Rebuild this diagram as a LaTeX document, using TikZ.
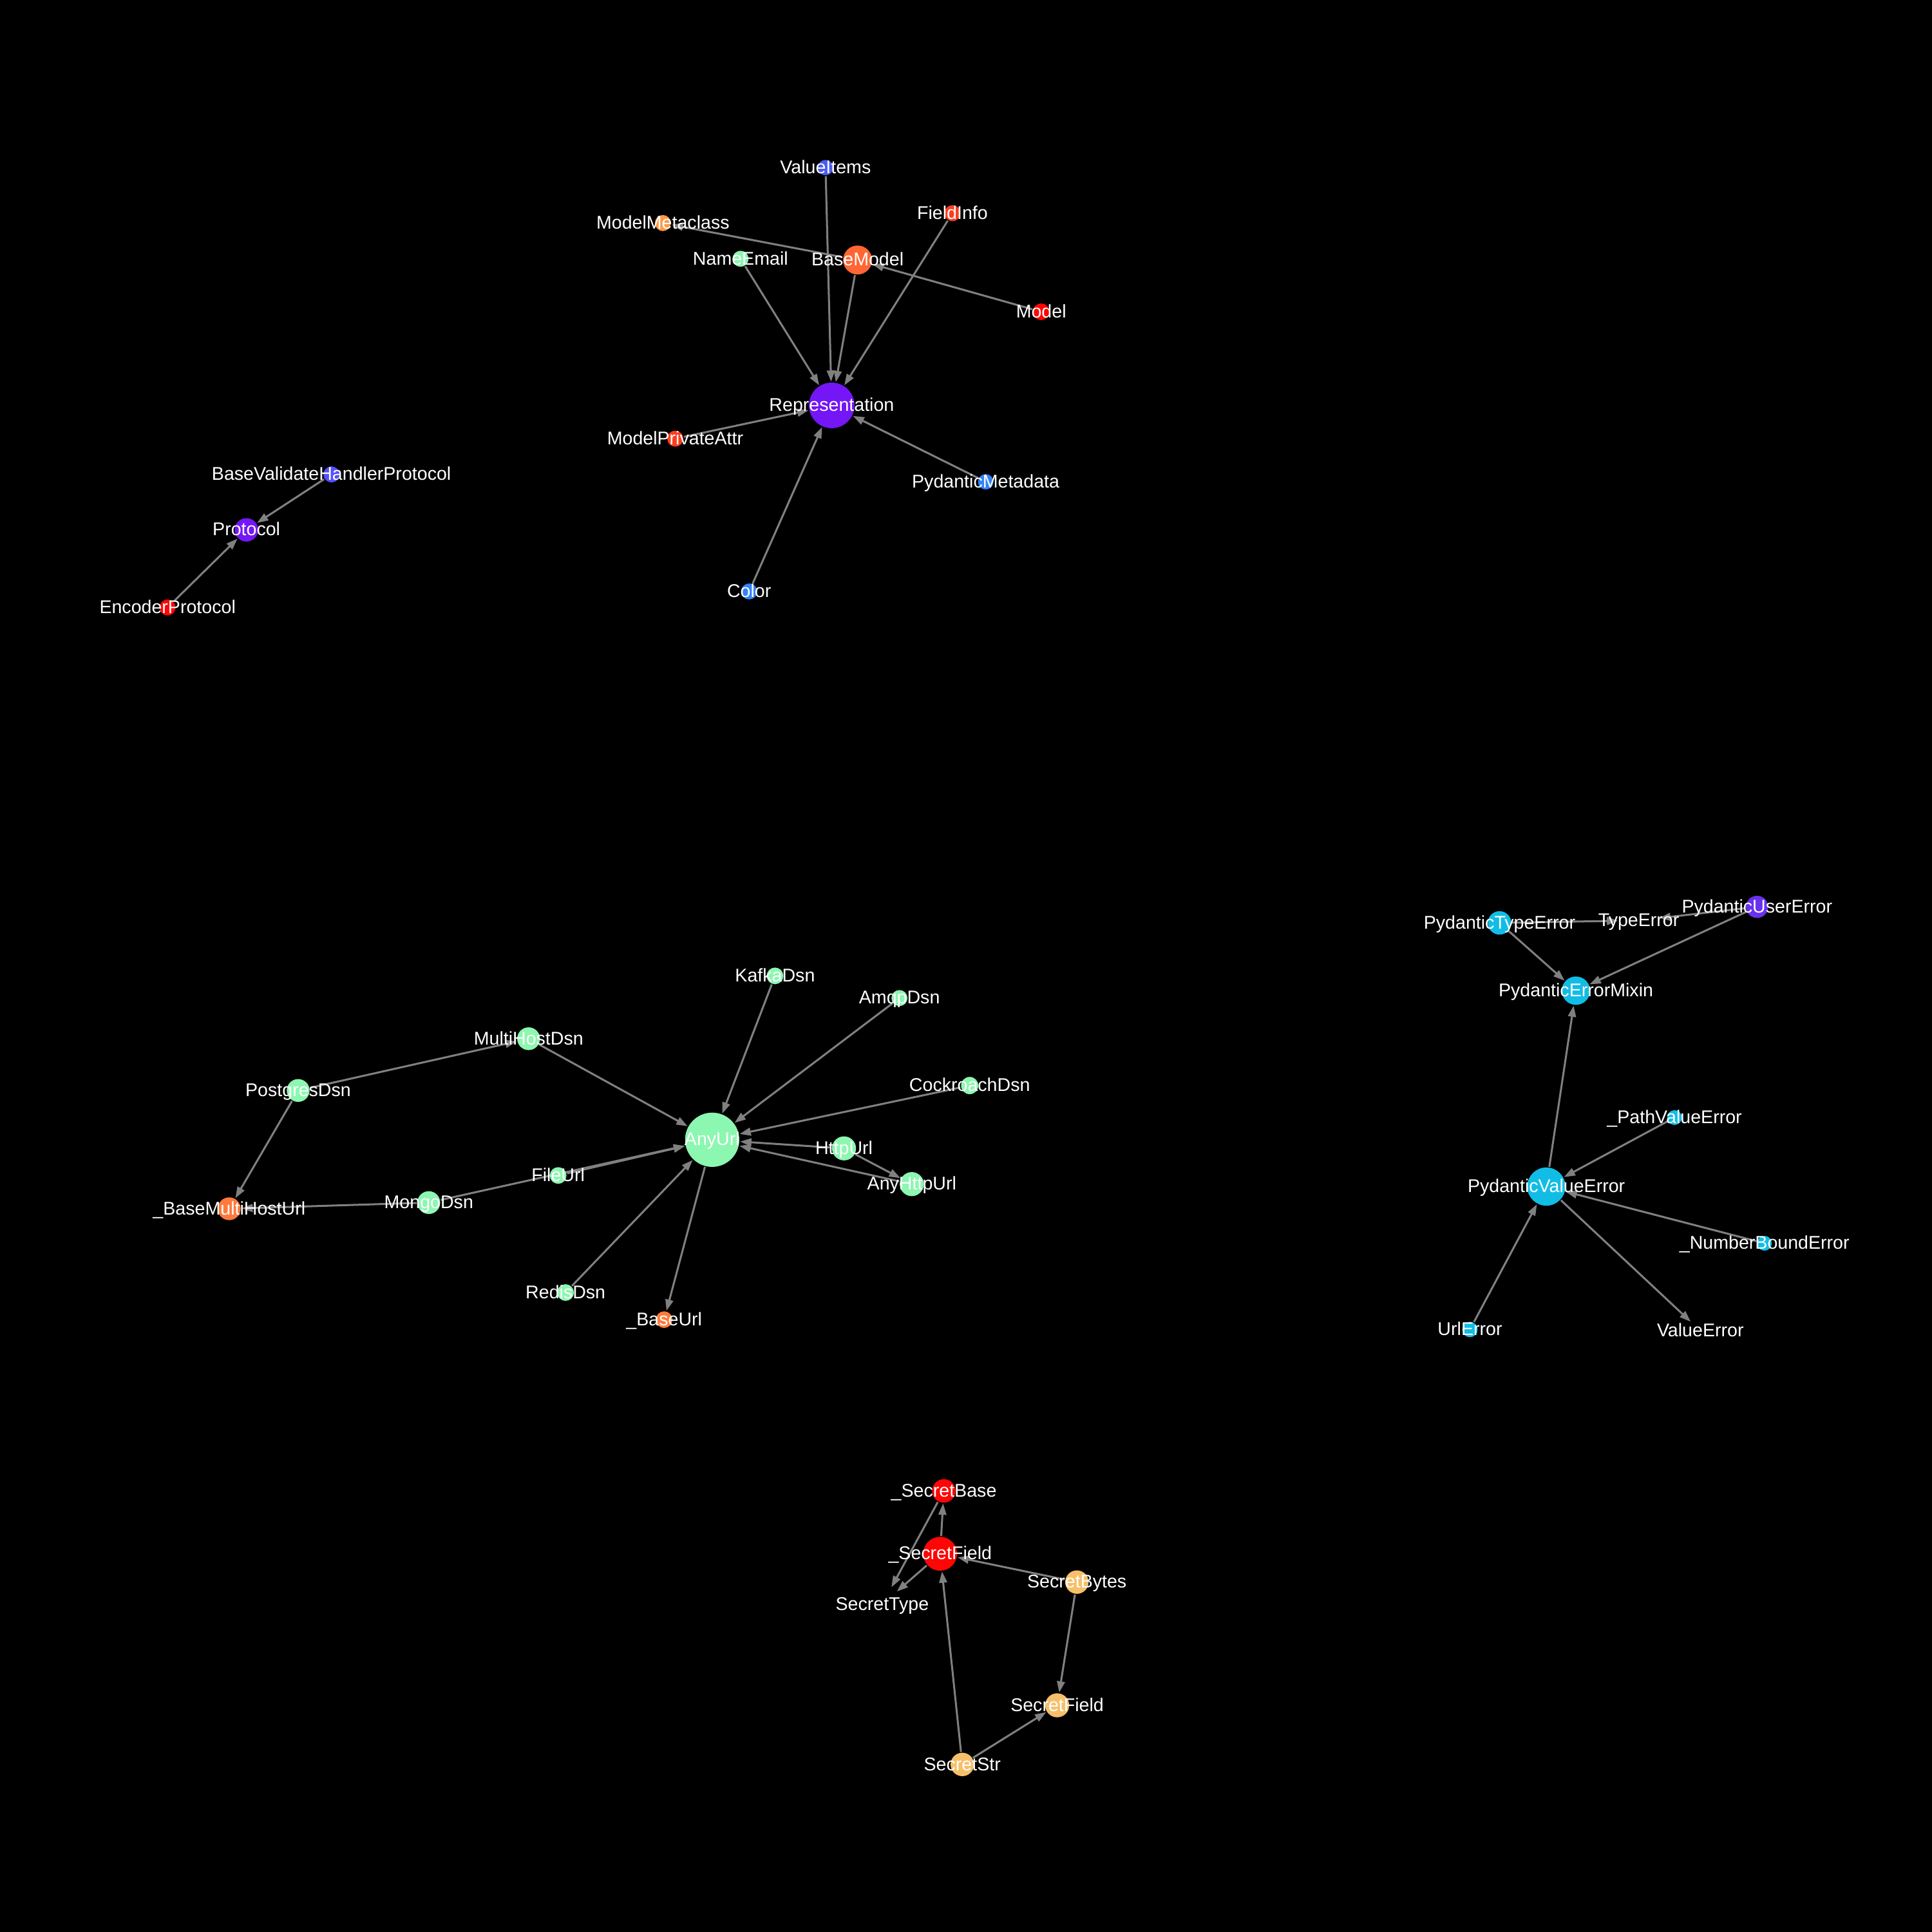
\documentclass[tikz,border=0pt]{standalone}
\usepackage{xcolor}
\usepackage{tikz}
\usepackage{fontspec}
\setmainfont{Liberation Sans}
\usetikzlibrary{arrows.meta}

\definecolor{linkgray}{HTML}{808080}
\definecolor{violet1}{HTML}{7416F5}
\definecolor{violet2}{HTML}{6832EE}
\definecolor{indigo1}{HTML}{5550FF}
\definecolor{indigo2}{HTML}{4A5CF2}
\definecolor{azure}{HTML}{3382F8}
\definecolor{cyanish}{HTML}{12BDE5}
\definecolor{mint}{HTML}{8CF7B0}
\definecolor{sand}{HTML}{F6C06A}
\definecolor{peach}{HTML}{FF9A4A}
\definecolor{tangerine}{HTML}{FF7A3C}
\definecolor{coral}{HTML}{FF6633}
\definecolor{vermil}{HTML}{FF3C1E}
\definecolor{pure}{HTML}{FF0505}

\pgfdeclarelayer{background}
\pgfdeclarelayer{links}
\pgfsetlayers{background,links,main}

\begin{document}
\begin{tikzpicture}[x=0.01cm,y=-0.01cm,
    dot/.style={circle,inner sep=0pt,minimum size=#1},
    tag/.style={text=white,inner sep=0pt,anchor=base,yshift=-0.48mm,font=\fontsize{4.25}{5}\selectfont},
    link/.style={draw=linkgray,line width=0.45pt,-{Triangle[length=2.6pt,width=1.8pt]}}]
\begin{pgfonlayer}{background}
\fill[black] (0,0) rectangle (1568,1568);
\end{pgfonlayer}

% Representation group
\node[dot=1.25mm,fill=indigo2] (valueitems) at (670,136) {};
\node[dot=1.3mm,fill=peach] (metaclass) at (538,181) {};
\node[dot=1.3mm,fill=vermil] (fieldinfo) at (773,173) {};
\node[dot=1.3mm,fill=mint] (nameemail) at (601,210) {};
\node[dot=2.35mm,fill=coral] (basemodel) at (696,211) {};
\node[dot=1.35mm,fill=pure] (model) at (845,253) {};
\node[dot=3.7mm,fill=violet1] (repr) at (675,329) {};
\node[dot=1.3mm,fill=vermil] (privattr) at (548,356) {};
\node[dot=1.25mm,fill=azure] (metadata) at (800,391) {};
\node[dot=1.3mm,fill=azure] (color) at (608,480) {};

% Protocol group
\node[dot=1.3mm,fill=indigo1] (bvhp) at (269,385) {};
\node[dot=1.9mm,fill=violet1] (protocol) at (200,430) {};
\node[dot=1.3mm,fill=pure] (encoder) at (136,493) {};

% AnyUrl group
\node[dot=1.35mm,fill=mint] (kafka) at (629,792) {};
\node[dot=1.3mm,fill=mint] (amqp) at (730,810) {};
\node[dot=1.85mm,fill=mint] (multihost) at (429,843) {};
\node[dot=1.4mm,fill=mint] (cockroach) at (787,881) {};
\node[dot=1.85mm,fill=mint] (postgres) at (242,885) {};
\node[dot=4.4mm,fill=mint] (anyurl) at (578,925) {};
\node[dot=1.95mm,fill=mint] (httpurl) at (685,932) {};
\node[dot=1.35mm,fill=mint] (fileurl) at (453,954) {};
\node[dot=1.95mm,fill=mint] (anyhttpurl) at (740,961) {};
\node[dot=1.85mm,fill=tangerine] (basemulti) at (186,981) {};
\node[dot=1.85mm,fill=mint] (mongo) at (348,976) {};
\node[dot=1.35mm,fill=mint] (redis) at (459,1049) {};
\node[dot=1.35mm,fill=tangerine] (baseurl) at (539,1071) {};

% error group
\node[dot=1.9mm,fill=cyanish] (ptype) at (1217,749) {};
\node[dot=3.2mm] (typeerror) at (1330,747) {};
\node[dot=1.8mm,fill=violet2] (puser) at (1426,736) {};
\node[dot=2.3mm,fill=cyanish] (mixin) at (1279,804) {};
\node[dot=1.2mm,fill=cyanish] (pathvalue) at (1359,907) {};
\node[dot=3.1mm,fill=cyanish] (pvalue) at (1255,963) {};
\node[dot=1.2mm,fill=cyanish] (numbound) at (1432,1009) {};
\node[dot=1.25mm,fill=cyanish] (urlerror) at (1193,1079) {};
\node[dot=2mm] (valueerror) at (1380,1080) {};

% secret group
\node[dot=1.9mm,fill=pure] (sbase) at (766,1210) {};
\node[dot=2.75mm,fill=pure] (sfield) at (763,1261) {};
\node[dot=3mm] (stype) at (716,1302) {};
\node[dot=1.9mm,fill=sand] (sbytes) at (874,1284) {};
\node[dot=1.95mm,fill=sand] (secretfield) at (858,1384) {};
\node[dot=1.9mm,fill=sand] (sstr) at (781,1432) {};

\begin{pgfonlayer}{links}
\draw[link] (valueitems) -- (repr);
\draw[link] (nameemail) -- (repr);
\draw[link] (basemodel) -- (repr);
\draw[link] (fieldinfo) -- (repr);
\draw[link] (basemodel) -- (metaclass);
\draw[link] (model) -- (basemodel);
\draw[link] (privattr) -- (repr);
\draw[link] (metadata) -- (repr);
\draw[link] (color) -- (repr);
\draw[link] (bvhp) -- (protocol);
\draw[link] (encoder) -- (protocol);
\draw[link] (kafka) -- (anyurl);
\draw[link] (amqp) -- (anyurl);
\draw[link] (cockroach) -- (anyurl);
\draw[link] (httpurl) -- (anyurl);
\draw[link] (anyhttpurl) -- (anyurl);
\draw[link] (httpurl) -- (anyhttpurl);
\draw[link] (multihost) -- (anyurl);
\draw[link] (fileurl) -- (anyurl);
\draw[link] (mongo) -- (anyurl);
\draw[link] (mongo) -- (basemulti);
\draw[link] (postgres) -- (multihost);
\draw[link] (postgres) -- (basemulti);
\draw[link] (redis) -- (anyurl);
\draw[link] (anyurl) -- (baseurl);
\draw[link] (ptype) -- (mixin);
\draw[link] (puser) -- (mixin);
\draw[link] (pvalue) -- (mixin);
\draw[link] (ptype) -- (typeerror);
\draw[link] (puser) -- (typeerror);
\draw[link] (pathvalue) -- (pvalue);
\draw[link] (numbound) -- (pvalue);
\draw[link] (urlerror) -- (pvalue);
\draw[link] (pvalue) -- (valueerror);
\draw[link] (sfield) -- (sbase);
\draw[link] (sbase) -- (stype);
\draw[link] (sfield) -- (stype);
\draw[link] (sbytes) -- (sfield);
\draw[link] (sbytes) -- (secretfield);
\draw[link] (sstr) -- (sfield);
\draw[link] (sstr) -- (secretfield);
\end{pgfonlayer}

% names on top
\node[tag] (valueitems-t) at (valueitems) {ValueItems};
\node[tag] (metaclass-t) at (metaclass) {ModelMetaclass};
\node[tag] (fieldinfo-t) at (fieldinfo) {FieldInfo};
\node[tag] (nameemail-t) at (nameemail) {NameEmail};
\node[tag] (basemodel-t) at (basemodel) {BaseModel};
\node[tag] (model-t) at (model) {Model};
\node[tag] (repr-t) at (repr) {Representation};
\node[tag] (privattr-t) at (privattr) {ModelPrivateAttr};
\node[tag] (metadata-t) at (metadata) {PydanticMetadata};
\node[tag] (color-t) at (color) {Color};
\node[tag] (bvhp-t) at (bvhp) {BaseValidateHandlerProtocol};
\node[tag] (protocol-t) at (protocol) {Protocol};
\node[tag] (encoder-t) at (encoder) {EncoderProtocol};
\node[tag] (kafka-t) at (kafka) {KafkaDsn};
\node[tag] (amqp-t) at (amqp) {AmqpDsn};
\node[tag] (multihost-t) at (multihost) {MultiHostDsn};
\node[tag] (cockroach-t) at (cockroach) {CockroachDsn};
\node[tag] (postgres-t) at (postgres) {PostgresDsn};
\node[tag] (anyurl-t) at (anyurl) {AnyUrl};
\node[tag] (httpurl-t) at (httpurl) {HttpUrl};
\node[tag] (fileurl-t) at (fileurl) {FileUrl};
\node[tag] (anyhttpurl-t) at (anyhttpurl) {AnyHttpUrl};
\node[tag] (basemulti-t) at (basemulti) {\_BaseMultiHostUrl};
\node[tag] (mongo-t) at (mongo) {MongoDsn};
\node[tag] (redis-t) at (redis) {RedisDsn};
\node[tag] (baseurl-t) at (baseurl) {\_BaseUrl};
\node[tag] (ptype-t) at (ptype) {PydanticTypeError};
\node[tag] (typeerror-t) at (typeerror) {TypeError};
\node[tag] (puser-t) at (puser) {PydanticUserError};
\node[tag] (mixin-t) at (mixin) {PydanticErrorMixin};
\node[tag] (pathvalue-t) at (pathvalue) {\_PathValueError};
\node[tag] (pvalue-t) at (pvalue) {PydanticValueError};
\node[tag] (numbound-t) at (numbound) {\_NumberBoundError};
\node[tag] (urlerror-t) at (urlerror) {UrlError};
\node[tag] (valueerror-t) at (valueerror) {ValueError};
\node[tag] (sbase-t) at (sbase) {\_SecretBase};
\node[tag] (sfield-t) at (sfield) {\_SecretField};
\node[tag] (stype-t) at (stype) {SecretType};
\node[tag] (sbytes-t) at (sbytes) {SecretBytes};
\node[tag] (secretfield-t) at (secretfield) {SecretField};
\node[tag] (sstr-t) at (sstr) {SecretStr};
\end{tikzpicture}
\end{document}
